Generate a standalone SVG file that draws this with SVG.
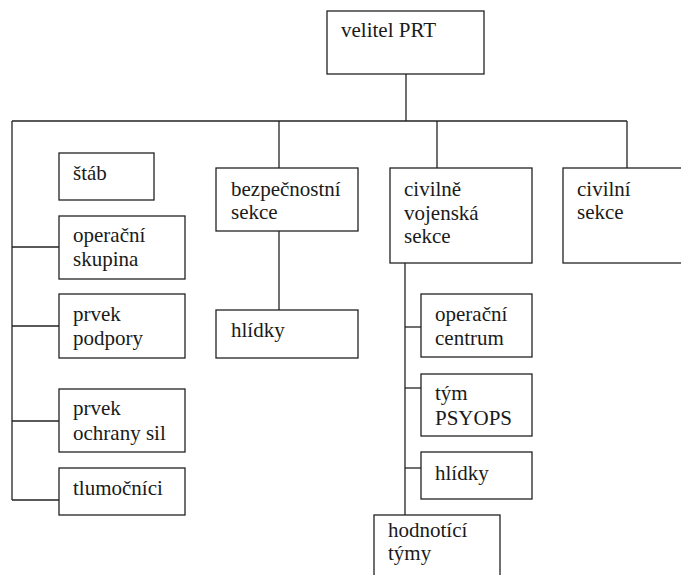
<svg xmlns="http://www.w3.org/2000/svg" width="681" height="575" viewBox="0 0 681 575">
<style>
rect{fill:#fff;stroke:#222;stroke-width:1.3}
.c line{stroke:#222;stroke-width:1.3}
text{font-family:"Liberation Serif","Times New Roman",serif;font-size:21px;fill:#1a1a1a}
</style>
<rect x="0" y="0" width="681" height="575" style="stroke:none"/>
<g class="c" id="connectors">
<line x1="406" y1="74" x2="406" y2="121"/>
<line x1="12" y1="121" x2="627" y2="121"/>
<line x1="12" y1="121" x2="12" y2="500"/>
<line x1="279" y1="121" x2="279" y2="168"/>
<line x1="437" y1="121" x2="437" y2="168"/>
<line x1="627" y1="121" x2="627" y2="168"/>
<line x1="12" y1="247" x2="59" y2="247"/>
<line x1="12" y1="326" x2="59" y2="326"/>
<line x1="12" y1="421" x2="59" y2="421"/>
<line x1="12" y1="500" x2="59" y2="500"/>
<line x1="279" y1="231" x2="279" y2="310"/>
<line x1="405" y1="263" x2="405" y2="515"/>
<line x1="405" y1="327" x2="421" y2="327"/>
<line x1="405" y1="388" x2="421" y2="388"/>
<line x1="405" y1="468" x2="421" y2="468"/>
</g>
<g id="velitel"><rect x="327" y="11" width="157" height="63"/><text x="341" y="37">velitel PRT</text></g>
<g id="stab"><rect x="59" y="153" width="95" height="47"/><text x="73" y="180">štáb</text></g>
<g id="operacni-skupina"><rect x="59" y="216" width="126" height="63"/><text x="73" y="242">operační</text><text x="73" y="266">skupina</text></g>
<g id="prvek-podpory"><rect x="59" y="294" width="126" height="64"/><text x="73" y="321">prvek</text><text x="73" y="345">podpory</text></g>
<g id="prvek-ochrany"><rect x="59" y="389" width="126" height="63"/><text x="73" y="415">prvek</text><text x="73" y="440">ochrany sil</text></g>
<g id="tlumocnici"><rect x="59" y="468" width="126" height="47"/><text x="73" y="495">tlumočníci</text></g>
<g id="bezpecnostni"><rect x="216" y="168" width="142" height="63"/><text x="231" y="196">bezpečnostní</text><text x="231" y="219">sekce</text></g>
<g id="hlidky1"><rect x="216" y="310" width="142" height="48"/><text x="231" y="337">hlídky</text></g>
<g id="civilne-vojenska"><rect x="390" y="168" width="142" height="95"/><text x="404" y="196">civilně</text><text x="404" y="220">vojenská</text><text x="404" y="243">sekce</text></g>
<g id="civilni"><rect x="563" y="168" width="130" height="95"/><text x="577" y="196">civilní</text><text x="577" y="219">sekce</text></g>
<g id="operacni-centrum"><rect x="421" y="294" width="111" height="63"/><text x="435" y="321">operační</text><text x="435" y="345">centrum</text></g>
<g id="tym-psyops"><rect x="421" y="374" width="111" height="62"/><text x="435" y="400">tým</text><text x="435" y="425">PSYOPS</text></g>
<g id="hlidky2"><rect x="421" y="452" width="111" height="47"/><text x="435" y="480">hlídky</text></g>
<g id="hodnotici"><rect x="374" y="515" width="126" height="70"/><text x="388" y="537">hodnotící</text><text x="388" y="560">týmy</text></g>
</svg>
